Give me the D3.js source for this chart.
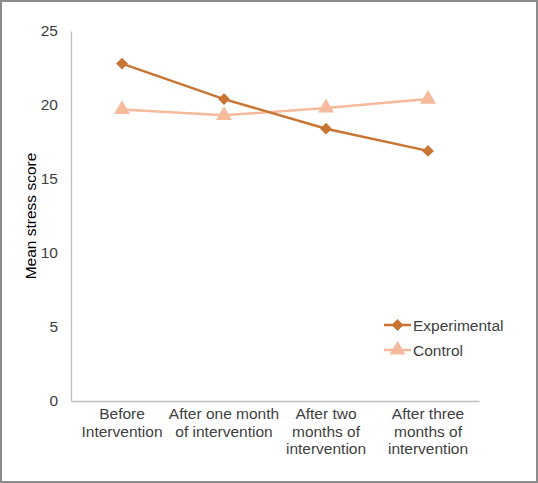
<!DOCTYPE html>
<html>
<head>
<meta charset="utf-8">
<script src="https://cdn.jsdelivr.net/npm/d3@7"></script>
<style>
  html, body { margin: 0; padding: 0; background: #fff; }
  svg { display: block; font-family: "Liberation Sans", Arial, sans-serif; }
</style>
</head>
<body>
<svg id="chart" width="538" height="483"></svg>
<script>
const categories = [
  ["Before", "Intervention"],
  ["After one month", "of intervention"],
  ["After two", "months of", "intervention"],
  ["After three", "months of", "intervention"]
];
const experimental = [22.8, 20.4, 18.4, 16.9];
const control = [19.7, 19.3, 19.8, 20.4];
const yTicks = [0, 5, 10, 15, 20, 25];
const seriesNames = ["Experimental", "Control"];

const svg = d3.select("#chart");
const W = 538, H = 483;
const margin = { left: 71, right: 59, top: 31, bottom: 82 };
const colors = { exp: "#C87533", ctl: "#F5BA9C" };
const textColor = "#404040";
const fs = "15.5px";

svg.append("rect").attr("x", 1).attr("y", 1).attr("width", W - 2).attr("height", H - 2)
  .attr("fill", "#fff").attr("stroke", "#8c8c8c").attr("stroke-width", 2);

const x = d3.scaleBand().domain(d3.range(categories.length))
  .range([margin.left, W - margin.right]);
const y = d3.scaleLinear().domain([0, 25]).range([H - margin.bottom, margin.top]);

// Y axis
const yAxis = svg.append("g").attr("transform", `translate(${margin.left},0)`)
  .call(d3.axisLeft(y).tickValues(yTicks).tickSize(0).tickPadding(13));
yAxis.select(".domain").attr("stroke", "#bfbfbf").attr("stroke-width", 1.3);
yAxis.selectAll("text").attr("fill", textColor).style("font-size", fs)
  .style("font-family", "Liberation Sans, Arial, sans-serif");

// X axis
const xAxis = svg.append("g").attr("transform", `translate(0,${H - margin.bottom})`)
  .call(d3.axisBottom(x).tickSize(0).tickFormat(""));
xAxis.select(".domain").attr("stroke", "#bfbfbf").attr("stroke-width", 1.3);
xAxis.selectAll(".tick").each(function(d) {
  const t = d3.select(this).append("text")
    .attr("fill", textColor).attr("text-anchor", "middle")
    .style("font-size", fs).style("font-family", "Liberation Sans, Arial, sans-serif");
  categories[d].forEach((line, i) => {
    t.append("tspan").attr("x", 0).attr("y", 18 + i * 17.5).text(line);
  });
});

// Y title
svg.append("text")
  .attr("transform", `translate(36,${(margin.top + H - margin.bottom) / 2}) rotate(-90)`)
  .attr("text-anchor", "middle").attr("fill", "#000")
  .style("font-size", fs).text("Mean stress score");

const cx = i => x(i) + x.bandwidth() / 2;
const line = d3.line().x((d, i) => cx(i)).y(d => y(d));

// Control series (drawn first)
svg.append("path").datum(control).attr("d", line)
  .attr("fill", "none").attr("stroke", colors.ctl).attr("stroke-width", 2.5);
const tri = d3.symbol().type(d3.symbolTriangle).size(110);
svg.selectAll(".ctl").data(control).enter().append("path")
  .attr("d", tri).attr("fill", colors.ctl)
  .attr("transform", (d, i) => `translate(${cx(i)},${y(d)})`);

// Experimental series
svg.append("path").datum(experimental).attr("d", line)
  .attr("fill", "none").attr("stroke", colors.exp).attr("stroke-width", 2.5);
const dia = d3.symbol().type(d3.symbolSquare).size(70);
svg.selectAll(".exp").data(experimental).enter().append("path")
  .attr("d", dia).attr("fill", colors.exp)
  .attr("transform", (d, i) => `translate(${cx(i)},${y(d)}) rotate(45)`);

// Legend
const legend = svg.append("g").attr("transform", "translate(384,325)");
[[colors.exp, dia, 45], [colors.ctl, tri, 0]].forEach(([c, sym, rot], i) => {
  const g = legend.append("g").attr("transform", `translate(0,${i * 25})`);
  g.append("line").attr("x1", 0).attr("x2", 27).attr("y1", 0).attr("y2", 0)
    .attr("stroke", c).attr("stroke-width", 2.5);
  g.append("path").attr("d", sym).attr("fill", c).attr("transform", `translate(13.5,0) rotate(${rot})`);
  g.append("text").attr("x", 29).attr("y", 5.5).attr("fill", textColor)
    .style("font-size", fs).text(seriesNames[i]);
});
</script>
</body>
</html>
